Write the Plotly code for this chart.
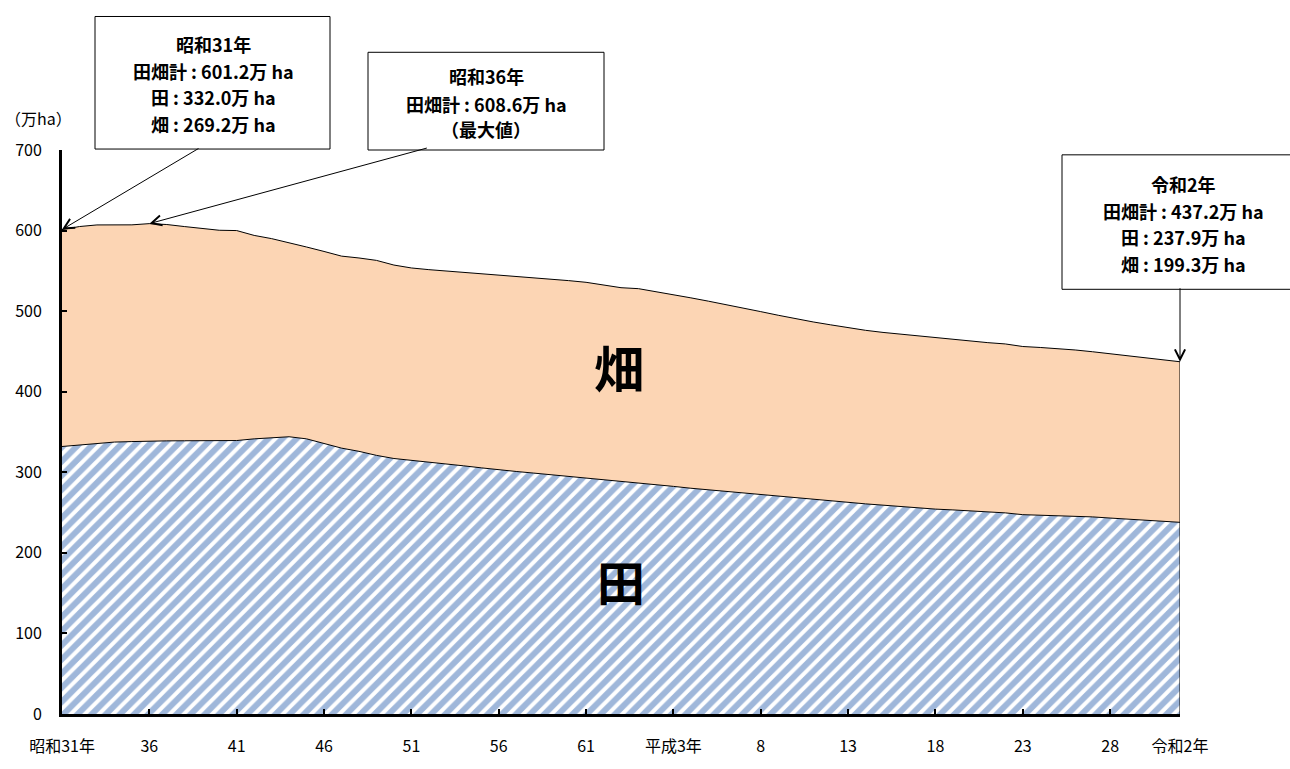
import plotly.graph_objects as go

# ---- data (万ha) ----
years = list(range(1956, 2021))
total = [601.2, 605.0, 607.0, 607.0, 607.1, 608.6, 607.5, 605.0, 603.0, 600.4,
         600.0, 594.0, 590.0, 585.2, 579.6, 574.1, 568.3, 566.0, 563.0, 557.2,
         553.6, 551.5, 549.9, 548.3, 546.1, 544.4, 542.6, 541.1, 539.6, 537.9,
         535.8, 532.5, 529.1, 527.9, 524.3, 520.4, 516.5, 512.4, 508.3, 503.8,
         499.4, 494.9, 490.5, 486.6, 483.0, 479.4, 476.2, 473.6, 471.4, 469.2,
         467.1, 465.0, 462.8, 460.9, 459.3, 456.1, 454.9, 453.7, 451.8, 449.6,
         447.1, 444.4, 442.0, 439.7, 437.2]
paddy = [332.0, 334.0, 336.0, 337.5, 338.1, 338.8, 339.0, 339.1, 339.2, 339.1,
         339.4, 341.5, 343.0, 344.1, 341.5, 336.0, 330.0, 326.0, 321.0, 317.1,
         315.0, 313.0, 310.5, 308.0, 305.5, 303.0, 301.0, 299.0, 297.0, 295.2,
         293.0, 291.0, 288.8, 286.8, 284.6, 282.5, 280.2, 278.2, 276.4, 274.5,
         272.4, 270.1, 267.9, 265.9, 264.1, 262.4, 260.8, 259.2, 257.5, 255.6,
         254.3, 253.3, 252.3, 250.6, 249.6, 247.4, 246.9, 246.5, 245.8, 244.6,
         243.2, 241.8, 240.5, 239.3, 237.9]

tick_years = [1956, 1961, 1966, 1971, 1976, 1981, 1986, 1991, 1996, 2001, 2006, 2011, 2016, 2020]
tick_labels = ["昭和31年", "36", "41", "46", "51", "56", "61", "平成3年", "8", "13", "18", "23", "28", "令和2年"]
y_ticks = [0, 100, 200, 300, 400, 500, 600, 700]

FONT = "Noto Sans CJK JP"
W, H = 1290, 769
L, R, T, B = 62, 110, 150, 36
PW, PH = W - L - R, H - T - B


def px(x):
    return (x - L) / PW


def py(y):
    return (H - B - y) / PH


fig = go.Figure()
fig.add_trace(go.Scatter(
    x=years, y=paddy, mode="lines", fill="tozeroy",
    line=dict(color="black", width=1),
    fillpattern=dict(shape="/", fgcolor="#3F70B5", bgcolor="white", size=10, solidity=0.6),
    fillcolor="white", name="田", hoverinfo="skip"))
fig.add_trace(go.Scatter(
    x=years, y=total, mode="lines", fill="tonexty",
    line=dict(color="black", width=1), fillcolor="#FCD5B4", name="畑", hoverinfo="skip"))
# right edge closing line
fig.add_trace(go.Scatter(x=[years[-1], years[-1]], y=[0, total[-1]], mode="lines",
                         line=dict(color="black", width=1), hoverinfo="skip"))

shapes = []
annotations = []


def box(x0, y0, x1, y1, cx, lines, ys, size=18):
    shapes.append(dict(type="rect", xref="paper", yref="paper",
                       x0=px(x0), x1=px(x1), y0=py(y1), y1=py(y0),
                       line=dict(color="black", width=1), fillcolor="white", layer="above"))
    for t, yy in zip(lines, ys):
        annotations.append(dict(xref="paper", yref="paper", x=px(cx), y=py(yy),
                                text="<b>" + t + "</b>", showarrow=False,
                                xanchor="center", yanchor="middle",
                                font=dict(family=FONT, size=size, color="black")))


box(95, 12, 330, 149, 213, ["昭和31年", "田畑計 : 601.2万 ha", "田 : 332.0万 ha", "畑 : 269.2万 ha"],
    [40, 68, 95, 123])
box(368, 49, 604, 150, 486, ["昭和36年", "田畑計 : 608.6万 ha", "（最大値）"], [73, 102, 128])
box(1062, 155, 1304, 294, 1183, ["令和2年", "田畑計 : 437.2万 ha", "田 : 237.9万 ha", "畑 : 199.3万 ha"],
    [185, 213, 240, 268])

# arrows
for xi, yi, ax, ay in [(years[0], total[0], 138, -82),
                       (years[5], total[5], 279, -76),
                       (years[-1], total[-1], 0, -75)]:
    annotations.append(dict(x=xi, y=yi, xref="x", yref="y", ax=ax, ay=ay, axref="pixel", ayref="pixel",
                            text="", showarrow=True, arrowhead=5, arrowsize=2, arrowwidth=1,
                            arrowcolor="black", standoff=0))

annotations.append(dict(xref="paper", yref="paper", x=px(38), y=py(117), text="（万ha）",
                        showarrow=False, xanchor="center", yanchor="middle",
                        font=dict(family=FONT, size=16, color="black")))
annotations.append(dict(xref="paper", yref="paper", x=px(619), y=py(373), text="<b>畑</b>",
                        showarrow=False, xanchor="center", yanchor="middle",
                        font=dict(family=FONT, size=50, color="black")))
annotations.append(dict(xref="paper", yref="paper", x=px(621), y=py(594), text="<b>田</b>",
                        showarrow=False, xanchor="center", yanchor="middle",
                        font=dict(family=FONT, size=48, color="black")))

fig.update_layout(
    width=W, height=H, margin=dict(l=L, r=R, t=T, b=B),
    paper_bgcolor="white", plot_bgcolor="white", showlegend=False,
    shapes=shapes, annotations=annotations,
    font=dict(family=FONT, size=16, color="black"),
    xaxis=dict(range=[1956, 2020], tickvals=tick_years, ticktext=tick_labels,
               showgrid=False, zeroline=False, showline=True, linecolor="black", linewidth=3,
               ticks="inside", ticklen=5, tickwidth=2, tickcolor="black",
               ticklabelstandoff=16, tickfont=dict(family=FONT, size=16, color="black")),
    yaxis=dict(range=[0, 700], tickvals=y_ticks, showgrid=False, zeroline=False,
               showline=True, linecolor="black", linewidth=3,
               ticks="inside", ticklen=5, tickwidth=2, tickcolor="black",
               ticklabelstandoff=14, tickfont=dict(family=FONT, size=16, color="black")),
)

fig.write_html("out.html")
